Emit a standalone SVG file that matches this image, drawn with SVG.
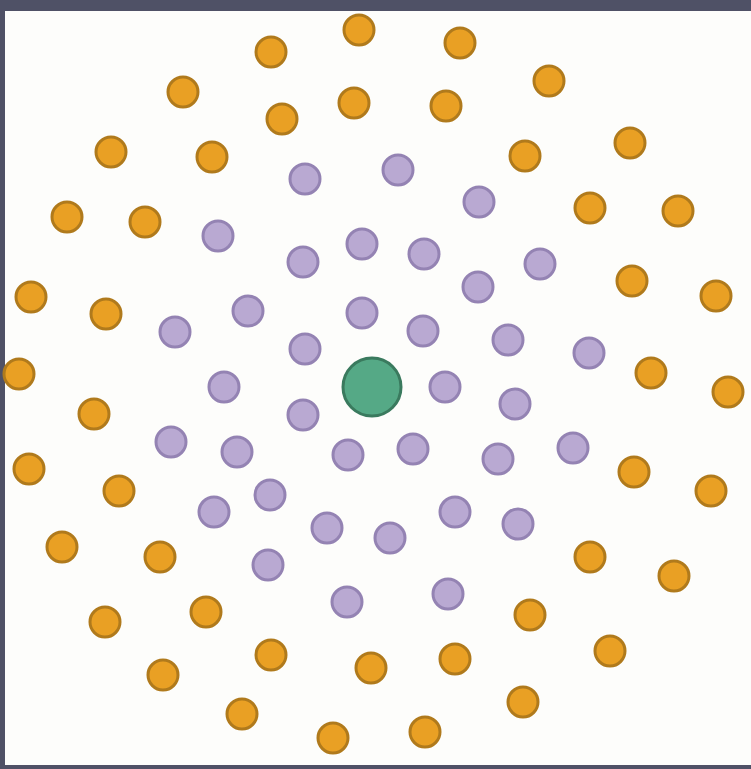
<svg xmlns="http://www.w3.org/2000/svg" width="751" height="769" viewBox="0 0 751 769">
<style>
.o{fill:#e9a024;stroke:#b07a1c;stroke-width:3}
.p{fill:#b9a9d2;stroke:#9483b3;stroke-width:3}
.g{fill:#55a986;stroke:#3a7a5e;stroke-width:3}
</style>
<rect x="0" y="0" width="751" height="769" fill="#4f5166"/>
<rect x="5" y="11" width="746" height="754" fill="#fdfdfb"/>
<g id="center"><circle class="g" cx="372" cy="387" r="29"/></g>
<g id="purple">
<circle class="p" cx="305" cy="179" r="15"/><circle class="p" cx="398" cy="170" r="15"/><circle class="p" cx="479" cy="202" r="15"/>
<circle class="p" cx="218" cy="236" r="15"/><circle class="p" cx="303" cy="262" r="15"/><circle class="p" cx="362" cy="244" r="15"/>
<circle class="p" cx="424" cy="254" r="15"/><circle class="p" cx="540" cy="264" r="15"/><circle class="p" cx="478" cy="287" r="15"/>
<circle class="p" cx="248" cy="311" r="15"/><circle class="p" cx="175" cy="332" r="15"/><circle class="p" cx="362" cy="313" r="15"/>
<circle class="p" cx="423" cy="331" r="15"/><circle class="p" cx="508" cy="340" r="15"/><circle class="p" cx="305" cy="349" r="15"/>
<circle class="p" cx="589" cy="353" r="15"/><circle class="p" cx="224" cy="387" r="15"/><circle class="p" cx="445" cy="387" r="15"/>
<circle class="p" cx="515" cy="404" r="15"/><circle class="p" cx="303" cy="415" r="15"/><circle class="p" cx="171" cy="442" r="15"/>
<circle class="p" cx="237" cy="452" r="15"/><circle class="p" cx="348" cy="455" r="15"/><circle class="p" cx="413" cy="449" r="15"/>
<circle class="p" cx="498" cy="459" r="15"/><circle class="p" cx="573" cy="448" r="15"/><circle class="p" cx="270" cy="495" r="15"/>
<circle class="p" cx="214" cy="512" r="15"/><circle class="p" cx="327" cy="528" r="15"/><circle class="p" cx="390" cy="538" r="15"/>
<circle class="p" cx="455" cy="512" r="15"/><circle class="p" cx="518" cy="524" r="15"/><circle class="p" cx="268" cy="565" r="15"/>
<circle class="p" cx="347" cy="602" r="15"/><circle class="p" cx="448" cy="594" r="15"/>
</g>
<g id="orange">
<circle class="o" cx="359" cy="30" r="15"/><circle class="o" cx="271" cy="52" r="15"/><circle class="o" cx="460" cy="43" r="15"/>
<circle class="o" cx="183" cy="92" r="15"/><circle class="o" cx="549" cy="81" r="15"/><circle class="o" cx="354" cy="103" r="15"/>
<circle class="o" cx="282" cy="119" r="15"/><circle class="o" cx="446" cy="106" r="15"/><circle class="o" cx="111" cy="152" r="15"/>
<circle class="o" cx="212" cy="157" r="15"/><circle class="o" cx="525" cy="156" r="15"/><circle class="o" cx="630" cy="143" r="15"/>
<circle class="o" cx="67" cy="217" r="15"/><circle class="o" cx="145" cy="222" r="15"/><circle class="o" cx="590" cy="208" r="15"/>
<circle class="o" cx="678" cy="211" r="15"/><circle class="o" cx="31" cy="297" r="15"/><circle class="o" cx="106" cy="314" r="15"/>
<circle class="o" cx="632" cy="281" r="15"/><circle class="o" cx="716" cy="296" r="15"/><circle class="o" cx="19" cy="374" r="15"/>
<circle class="o" cx="94" cy="414" r="15"/><circle class="o" cx="651" cy="373" r="15"/><circle class="o" cx="728" cy="392" r="15"/>
<circle class="o" cx="29" cy="469" r="15"/><circle class="o" cx="119" cy="491" r="15"/><circle class="o" cx="634" cy="472" r="15"/>
<circle class="o" cx="711" cy="491" r="15"/><circle class="o" cx="62" cy="547" r="15"/><circle class="o" cx="160" cy="557" r="15"/>
<circle class="o" cx="590" cy="557" r="15"/><circle class="o" cx="674" cy="576" r="15"/><circle class="o" cx="105" cy="622" r="15"/>
<circle class="o" cx="206" cy="612" r="15"/><circle class="o" cx="530" cy="615" r="15"/><circle class="o" cx="610" cy="651" r="15"/>
<circle class="o" cx="163" cy="675" r="15"/><circle class="o" cx="271" cy="655" r="15"/><circle class="o" cx="371" cy="668" r="15"/>
<circle class="o" cx="455" cy="659" r="15"/><circle class="o" cx="242" cy="714" r="15"/><circle class="o" cx="333" cy="738" r="15"/>
<circle class="o" cx="425" cy="732" r="15"/><circle class="o" cx="523" cy="702" r="15"/>
</g>
</svg>
